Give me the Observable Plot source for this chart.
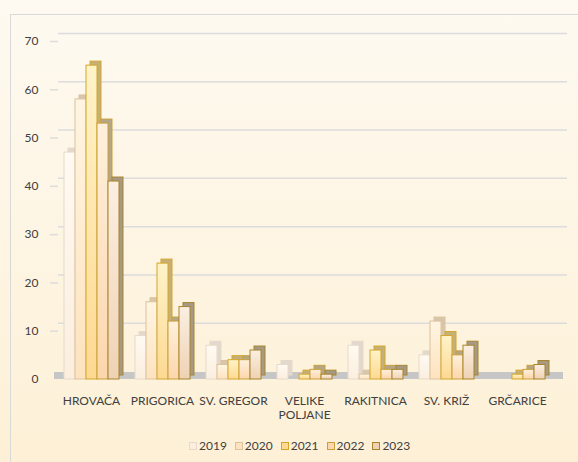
<!DOCTYPE html>
<html>
<head>
<meta charset="utf-8">
<script src="https://cdn.jsdelivr.net/npm/d3@7"></script>
<script src="https://cdn.jsdelivr.net/npm/@observablehq/plot@0.6"></script>
<style>
  html, body { margin: 0; padding: 0; }
  body { width: 578px; height: 462px; overflow: hidden; font-family: Lato, "Open Sans", sans-serif; }
  #wrap { position: relative; width: 578px; height: 462px; background: linear-gradient(#fefaf1, #fdf0d6); }
  #border { position: absolute; left: 10px; top: 14px; width: 620px; height: 520px; border: 1px solid #d9d9d9; box-sizing: border-box; }
  .layer { position: absolute; left: 0; top: 0; }
  #legend { position: absolute; left: 189px; top: 438px; display: flex; gap: 8px; font-size: 12px; color: #404040; }
  #legend .item { display: flex; align-items: center; gap: 2px; }
  #legend .sw { width: 8px; height: 8px; box-sizing: border-box; border: 1.5px solid; }
</style>
</head>
<body>
<div id="wrap">
  <div id="border"></div>
  <div id="bg" class="layer"></div>
  <div id="fg" class="layer"></div>
  <div id="legend"></div>
</div>
<script>
const categories = ["HROVAČA", "PRIGORICA", "SV. GREGOR", "VELIKE\nPOLJANE", "RAKITNICA", "SV. KRIŽ", "GRČARICE"];
const years = ["2019", "2020", "2021", "2022", "2023"];
const v2019 = [47, 9, 7, 3, 7, 5, 0];
const v2020 = [58, 16, 3, 0, 1, 12, 0];
const v2021 = [65, 24, 4, 1, 6, 9, 1];
const v2022 = [53, 12, 4, 2, 2, 5, 2];
const v2023 = [41, 15, 6, 1, 2, 7, 3];
const yTicks = [0, 10, 20, 30, 40, 50, 60, 70];

const series = [v2019, v2020, v2021, v2022, v2023];
const rows = categories.flatMap((c, i) => years.map((y, j) => ({cat: c, year: y, value: series[j][i]})));

const borderCol = ["#e6dacb", "#dcc29e", "#d4a62a", "#c9a03a", "#a8842c"];
const sideCol = ["#e2d9cc", "#d6c6ac", "#c6b07a", "#b4a686", "#a69a84"];
const gradTop = ["#fffaf2", "#fff5e2", "#fff3c8", "#fff0dc", "#fbefe2"];
const gradBot = ["#fbeede", "#fde3be", "#fdd992", "#fcd6ac", "#efd2b4"];

const W = 578, H = 430, MT = 41, MB = 51;

// background: axis, gridlines, floor
const bg = Plot.plot({
  width: W, height: H,
  marginLeft: 50, marginRight: 11, marginTop: MT, marginBottom: MB,
  style: {background: "transparent", fontSize: "12px", fontFamily: "Lato, 'Open Sans', sans-serif", color: "#404040"},
  y: {domain: [0, 70], ticks: yTicks, tickSize: 0, tickPadding: 12, label: null},
  marks: [
    Plot.ruleY(yTicks.filter(t => t > 0), {stroke: "#dcdcdc", strokeWidth: 1.5, insetLeft: 8, dy: -8}),
    Plot.ruleY(yTicks.filter(t => t > 0), {stroke: "#dcdcdc", strokeWidth: 1.5, insetRight: W - 50 - 11 - 8, ariaLabel: "slant"}),
    Plot.ruleY([0], {stroke: "#c6c6c6", strokeWidth: 7, dy: -4, insetLeft: 4, insetRight: 4, ariaLabel: "floor"})
  ]
});
d3.select(bg).selectAll('g[aria-label="slant"] line').attr("y2", function() { return +d3.select(this).attr("y1") - 8; });
document.getElementById("bg").appendChild(bg);

// foreground: 3D-ish bars
const backMarks = years.map((y, j) => Plot.barY(rows.filter(d => d.year === y), {
  fx: "cat", x: "year", y: "value", dx: 4, dy: -4, fill: sideCol[j], stroke: borderCol[j], strokeWidth: 1
}));
const frontMarks = years.map((y, j) => Plot.barY(rows.filter(d => d.year === y), {
  fx: "cat", x: "year", y: "value", fill: `url(#grad${j})`, stroke: borderCol[j], strokeWidth: 1
}));

const fg = Plot.plot({
  width: W, height: H,
  marginLeft: 60, marginRight: 29, marginTop: MT, marginBottom: MB,
  style: {background: "transparent", fontSize: "12px", fontFamily: "Lato, 'Open Sans', sans-serif", color: "#404040"},
  fx: {domain: categories, padding: 0.208, axis: null, label: null},
  x: {domain: years, padding: 0, axis: null},
  y: {domain: [0, 70], axis: null},
  marks: [
    ...backMarks,
    ...frontMarks,
    Plot.text(categories, {fx: d => d, text: d => d, frameAnchor: "bottom", lineAnchor: "top", dy: 15, lineHeight: 1.2, fill: "#404040", fontSize: 12})
  ]
});
const defs = d3.select(fg).insert("defs", ":first-child");
years.forEach((y, j) => {
  const g = defs.append("linearGradient").attr("id", `grad${j}`).attr("x1", 0).attr("y1", 0).attr("x2", 0).attr("y2", 1);
  g.append("stop").attr("offset", "0%").attr("stop-color", gradTop[j]);
  g.append("stop").attr("offset", "100%").attr("stop-color", gradBot[j]);
});
document.getElementById("fg").appendChild(fg);

// legend
const leg = d3.select("#legend");
years.forEach((y, j) => {
  const it = leg.append("div").attr("class", "item");
  it.append("div").attr("class", "sw").style("border-color", borderCol[j]).style("background", gradBot[j]);
  it.append("span").text(y);
});
</script>
</body>
</html>
